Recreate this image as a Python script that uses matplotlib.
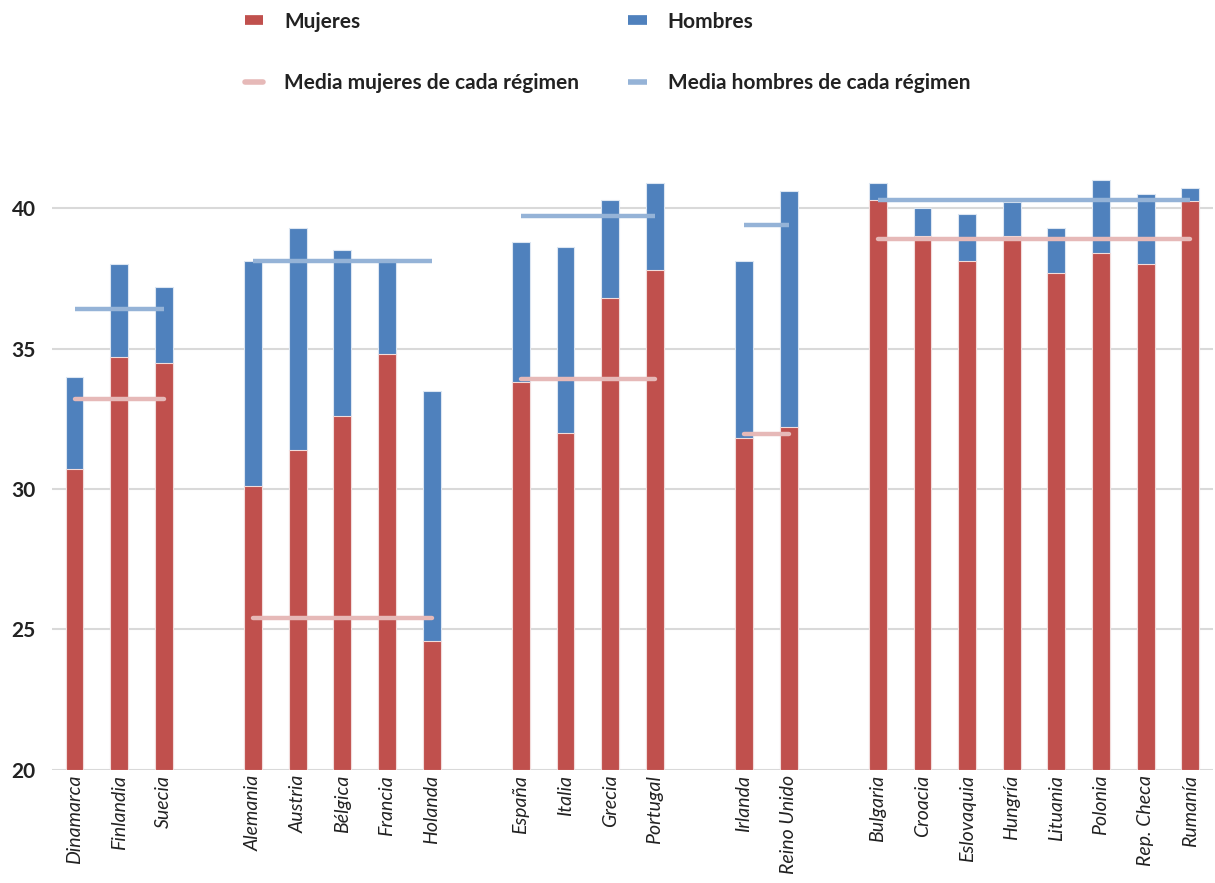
import matplotlib
matplotlib.use("Agg")
import matplotlib.pyplot as plt
from matplotlib.lines import Line2D

# data
paises = ["Dinamarca", "Finlandia", "Suecia",
          "Alemania", "Austria", "Bélgica", "Francia", "Holanda",
          "España", "Italia", "Grecia", "Portugal",
          "Irlanda", "Reino Unido",
          "Bulgaria", "Croacia", "Eslovaquia", "Hungría", "Lituania",
          "Polonia", "Rep. Checa", "Rumanía"]
grupo_tamanos = [3, 5, 4, 2, 8]
mujeres = [30.7, 34.7, 34.5,
           30.1, 31.4, 32.6, 34.8, 24.6,
           33.8, 32.0, 36.8, 37.8,
           31.8, 32.2,
           40.3, 39.0, 38.1, 39.0, 37.7, 38.4, 38.0, 40.25]
hombres = [34.0, 38.0, 37.2,
           38.1, 39.3, 38.5, 38.2, 33.5,
           38.8, 38.6, 40.3, 40.9,
           38.1, 40.6,
           40.9, 40.0, 39.8, 40.2, 39.3, 41.0, 40.5, 40.7]
media_mujeres = [33.2, 25.4, 33.9, 31.95, 38.9]
media_hombres = [36.4, 38.1, 39.7, 39.4, 40.3]

ROJO = "#C0504D"
AZUL = "#4F81BD"
ROSA = "#E6B9B8"
CELESTE = "#95B3D7"

plt.rcParams["font.family"] = ["Lato", "DejaVu Sans"]

# x positions: one empty slot between groups
pos = []
grupos_pos = []
x = 0
for n in grupo_tamanos:
    g = list(range(x, x + n))
    pos += g
    grupos_pos.append(g)
    x += n + 1

fig = plt.figure(figsize=(12.15, 8.83), dpi=100)
ax = fig.add_axes([0.043, 0.128, 0.955, 0.70])

base = 20
ax.bar(pos, [h - base for h in hombres], bottom=base, width=0.4,
       color=AZUL, edgecolor="#DCE6F2", linewidth=0.8, zorder=2)
ax.bar(pos, [m - base for m in mujeres], bottom=base, width=0.4,
       color=ROJO, edgecolor="#F2DCDB", linewidth=0.8, zorder=3)

for g, mm, mh in zip(grupos_pos, media_mujeres, media_hombres):
    ax.plot([g[0], g[-1]], [mm, mm], color=ROSA, lw=3.2,
            solid_capstyle="round", zorder=4)
    ax.plot([g[0], g[-1]], [mh, mh], color=CELESTE, lw=3.2,
            solid_capstyle="butt", zorder=4)

ax.set_xlim(-0.5, pos[-1] + 0.5)
ax.set_ylim(20, 42)
ax.set_yticks([20, 25, 30, 35, 40])
ax.yaxis.grid(True, color="#D9D9D9", lw=1.5, zorder=0)
ax.set_axisbelow(True)
for s in ax.spines.values():
    s.set_visible(False)
ax.tick_params(axis="both", length=0)
ax.tick_params(axis="y", pad=12)
ax.set_xticks(pos)
ax.set_xticklabels(paises, rotation=90, style="italic", fontsize=14,
                   color="#222222")
for lab in ax.get_yticklabels():
    lab.set_fontweight("bold")
    lab.set_fontsize(15)
    lab.set_color("#222222")

handles = [Line2D([], [], color=ROJO, lw=7, solid_capstyle="butt"),
           Line2D([], [], color=ROSA, lw=4, solid_capstyle="round"),
           Line2D([], [], color=AZUL, lw=7, solid_capstyle="butt"),
           Line2D([], [], color=CELESTE, lw=4, solid_capstyle="butt")]
labels = ["Mujeres", "Media mujeres de cada régimen",
          "Hombres", "Media hombres de cada régimen"]
leg = fig.legend(handles, labels, ncol=2, loc="upper left",
                 bbox_to_anchor=(0.186, 1.008), frameon=False,
                 prop={"weight": "bold", "size": 15},
                 handlelength=0.9, handletextpad=1.0,
                 columnspacing=2.35, labelspacing=2.0)
for t in leg.get_texts():
    t.set_color("#222222")

fig.savefig("out.png", dpi=100)
